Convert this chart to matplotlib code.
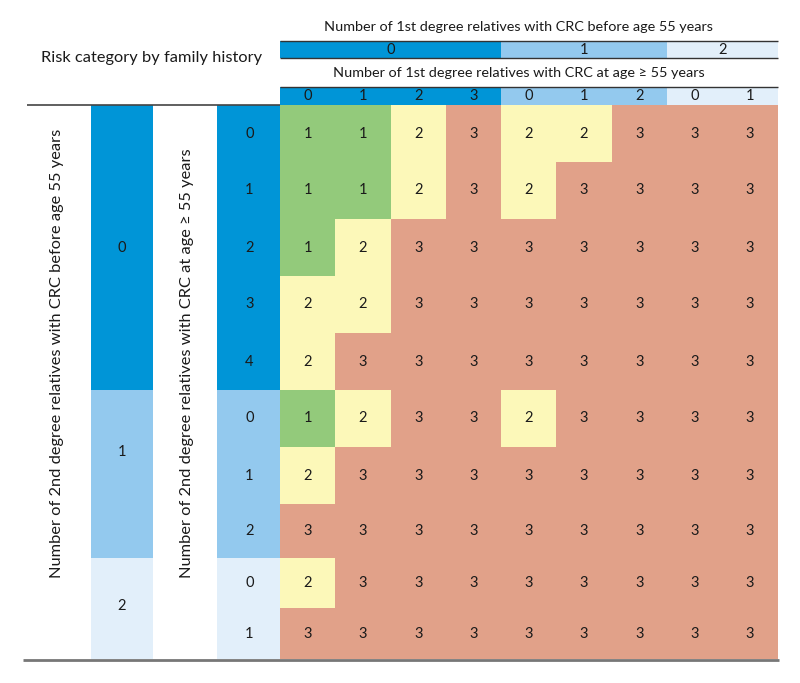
import numpy as np
import matplotlib
matplotlib.use("Agg")
import matplotlib.pyplot as plt
from matplotlib.colors import ListedColormap, BoundaryNorm
from matplotlib.patches import Rectangle

plt.rcParams['font.family'] = ['Lato', 'DejaVu Sans']

# ---------------- data ----------------
first_before55_groups = ["0", "1", "2"]          # column groups
first_at55_per_group = [["0", "1", "2", "3"], ["0", "1", "2"], ["0", "1"]]
second_before55_groups = ["0", "1", "2"]         # row groups
second_at55_per_group = [["0", "1", "2", "3", "4"], ["0", "1", "2"], ["0", "1"]]

risk = np.array([
    [1, 1, 2, 3, 2, 2, 3, 3, 3],
    [1, 1, 2, 3, 2, 3, 3, 3, 3],
    [1, 2, 3, 3, 3, 3, 3, 3, 3],
    [2, 2, 3, 3, 3, 3, 3, 3, 3],
    [2, 3, 3, 3, 3, 3, 3, 3, 3],
    [1, 2, 3, 3, 2, 3, 3, 3, 3],
    [2, 3, 3, 3, 3, 3, 3, 3, 3],
    [3, 3, 3, 3, 3, 3, 3, 3, 3],
    [2, 3, 3, 3, 3, 3, 3, 3, 3],
    [3, 3, 3, 3, 3, 3, 3, 3, 3],
])

title_left = "Risk category by family history"
col_title_top = "Number of 1st degree relatives with CRC before age 55 years"
col_title_sub = "Number of 1st degree relatives with CRC at age \u2265 55 years"
row_title_1 = "Number of 2nd degree relatives with CRC before age 55 years"
row_title_2 = "Number of 2nd degree relatives with CRC at age \u2265 55 years"

# ---------------- style / layout ----------------
risk_colors = ["#93CA7B", "#FCF8B9", "#E1A189"]
group_colors = ["#0095D7", "#93C9EE", "#E2EFFA"]
txt = "#1a1a1a"

W, H = 800, 683
grid_x0, grid_x1 = 280, 777.5
row_edges = np.array([105, 162, 219, 276, 333, 390, 447, 504, 558, 608, 659])
ncol = risk.shape[1]
col_edges = np.linspace(grid_x0, grid_x1, ncol + 1)
band1_x = (91, 153)
band2_x = (217, 280)
hdr1_y = (41, 58)
hdr2_y = (87, 104)
fs_num = 10.5
fs_hdr = 10.4
fs_big = 11.8

fig = plt.figure(figsize=(W / 100, H / 100), dpi=100)
ax = fig.add_axes([0, 0, 1, 1])
ax.set_xlim(0, W)
ax.set_ylim(H, 0)
ax.axis("off")

# main grid
cmap = ListedColormap(risk_colors)
norm = BoundaryNorm([0.5, 1.5, 2.5, 3.5], cmap.N)
ax.pcolormesh(col_edges, row_edges, risk, cmap=cmap, norm=norm, shading="flat")
for r in range(risk.shape[0]):
    for c in range(ncol):
        ax.text((col_edges[c] + col_edges[c + 1]) / 2, (row_edges[r] + row_edges[r + 1]) / 2,
                str(risk[r, c]), ha="center", va="center", fontsize=fs_num, color=txt)

# column headers
col_group_idx = [g for g, subs in enumerate(first_at55_per_group) for _ in subs]
col_sub_labels = [s for subs in first_at55_per_group for s in subs]
start = 0
for g, subs in enumerate(first_at55_per_group):
    x0, x1 = col_edges[start], col_edges[start + len(subs)]
    ax.add_patch(Rectangle((x0, hdr1_y[0]), x1 - x0, hdr1_y[1] - hdr1_y[0],
                           facecolor=group_colors[g], edgecolor="none"))
    ax.text((x0 + x1) / 2, sum(hdr1_y) / 2, first_before55_groups[g],
            ha="center", va="center", fontsize=fs_num, color=txt)
    start += len(subs)
for c in range(ncol):
    x0, x1 = col_edges[c], col_edges[c + 1]
    ax.add_patch(Rectangle((x0, hdr2_y[0]), x1 - x0, hdr2_y[1] - hdr2_y[0] + 1,
                           facecolor=group_colors[col_group_idx[c]], edgecolor="none"))
    ax.text((x0 + x1) / 2, sum(hdr2_y) / 2 + 0.5, col_sub_labels[c],
            ha="center", va="center", fontsize=fs_num, color=txt)
for yy in (hdr1_y[0], hdr1_y[1], hdr2_y[0]):
    ax.plot([grid_x0, grid_x1], [yy, yy], color="#333333", lw=1.0, solid_capstyle="butt")

ax.text((grid_x0 + grid_x1) / 2 - 10, 27, col_title_top, ha="center", va="center",
        fontsize=fs_hdr, color=txt)
ax.text((grid_x0 + grid_x1) / 2 - 10, 73, col_title_sub, ha="center", va="center",
        fontsize=fs_hdr, color=txt)
ax.text(41, 58, title_left, ha="left", va="center", fontsize=fs_big, color=txt)

# row headers
r = 0
label_offsets = [0, -22, -2]
for g, subs in enumerate(second_at55_per_group):
    y0, y1 = row_edges[r], row_edges[r + len(subs)]
    ax.add_patch(Rectangle((band1_x[0], y0), band1_x[1] - band1_x[0], y1 - y0,
                           facecolor=group_colors[g], edgecolor="none"))
    ax.text(sum(band1_x) / 2, (y0 + y1) / 2 + label_offsets[g], second_before55_groups[g],
            ha="center", va="center", fontsize=fs_num, color=txt)
    for k, s in enumerate(subs):
        ya, yb = row_edges[r + k], row_edges[r + k + 1]
        ax.add_patch(Rectangle((band2_x[0], ya), band2_x[1] - band2_x[0], yb - ya,
                               facecolor=group_colors[g], edgecolor="none"))
        ax.text(sum(band2_x) / 2 + 1, (ya + yb) / 2, s, ha="center", va="center",
                fontsize=fs_num, color=txt)
    r += len(subs)

ax.text(57, 578, row_title_1, rotation=90, ha="center", va="bottom", fontsize=fs_big, color=txt)
ax.text(187, 578, row_title_2, rotation=90, ha="center", va="bottom", fontsize=fs_big, color=txt)

# rules
ax.plot([27, band2_x[1]], [104.5, 104.5], color="#444444", lw=1.2, solid_capstyle="butt")
ax.plot([23, grid_x1 + 1], [660, 660], color="#777777", lw=2, solid_capstyle="butt")

fig.savefig("out.png", dpi=100)
